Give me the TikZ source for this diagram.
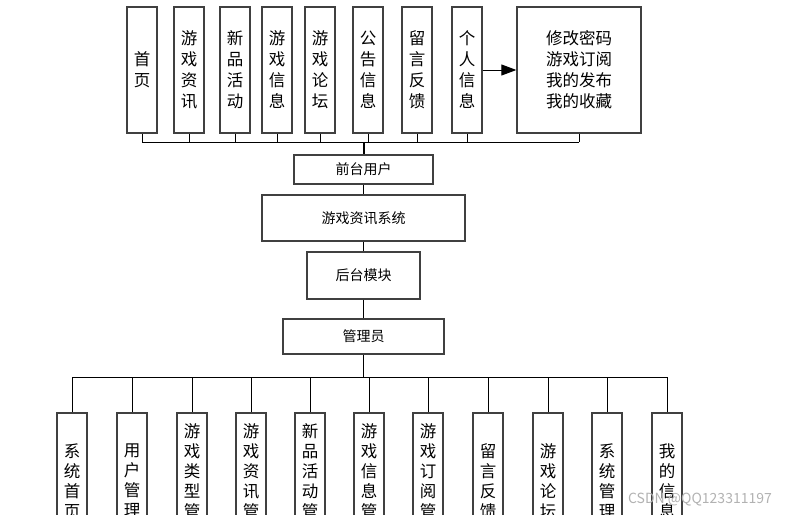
\documentclass[tikz,border=0pt]{standalone}
\usepackage{fontspec}
\setmainfont{Noto Sans CJK SC}
\usetikzlibrary{positioning, arrows.meta}

\begin{document}
\begin{tikzpicture}[
        x=1pt, y=-1pt,
        line width=1pt,
        tallbox/.style={
            draw=black!75,
            line width=1.3pt,
            fill=white,
            inner sep=0pt,
            minimum width=30pt,
            align=center,
            font=\fontsize{16.5}{21}\selectfont
        },
        upbox/.style={tallbox, minimum height=126pt},
        downbox/.style={tallbox, minimum height=136pt, font=\fontsize{16.5}{20}\selectfont},
        midbox/.style={
            draw=black!75,
            line width=1.3pt,
            fill=white,
            inner sep=0pt,
            font=\fontsize{14}{16}\selectfont
        }
    ]
        \useasboundingbox (0,0) rectangle (792,514);
        \clip (0,0) rectangle (792,514);

        % Front-end modules
        \node[upbox] (home) at (142,70) {首\\页};
        \node[upbox] (news) at (189,70) {游\\戏\\资\\讯};
        \node[upbox] (event) at (235,70) {新\\品\\活\\动};
        \node[upbox] (info) at (277,70) {游\\戏\\信\\息};
        \node[upbox] (forum) at (320,70) {游\\戏\\论\\坛};
        \node[upbox] (notice) at (368,70) {公\\告\\信\\息};
        \node[upbox] (msg) at (417,70) {留\\言\\反\\馈};
        \node[upbox] (self) at (467,70) {个\\人\\信\\息};
        \node[upbox, minimum width=124pt, align=left] (selfsub) at (579,70) {修改密码\\游戏订阅\\我的发布\\我的收藏};
        \draw[-{Triangle[length=15pt,width=11pt]}] (self) -- (selfsub);

        % Main chain
        \node[midbox, minimum width=139pt, minimum height=29pt] (front) at (363.5,169.5) {前台用户};
        \node[midbox, minimum width=203pt, minimum height=46pt] (sys) at (363.5,218) {游戏资讯系统};
        \node[midbox, minimum width=113pt, minimum height=47pt] (back) at (363.5,275.5) {后台模块};
        \node[midbox, minimum width=161pt, minimum height=35pt] (admin) at (363.5,336.5) {管理员};
        \draw (front) -- (sys);
        \draw (sys) -- (back);
        \draw (back) -- (admin);

        % Top bus
        \coordinate (topbus) at (363.5,142);
        \draw (home.south |- topbus) -- (selfsub.south |- topbus);
        \draw (home.south) -- (home.south |- topbus);
        \draw (news.south) -- (news.south |- topbus);
        \draw (event.south) -- (event.south |- topbus);
        \draw (info.south) -- (info.south |- topbus);
        \draw (forum.south) -- (forum.south |- topbus);
        \draw (notice.south) -- (notice.south |- topbus);
        \draw (msg.south) -- (msg.south |- topbus);
        \draw (self.south) -- (self.south |- topbus);
        \draw (selfsub.south) -- (selfsub.south |- topbus);
        \draw[line width=2pt] (topbus) -- (front.north);

        % Back-end modules
        \node[downbox] (a1) at (72,481) {系\\统\\首\\页};
        \node[downbox] (a2) at (132,481) {用\\户\\管\\理};
        \node[downbox] (a3) at (192,481) {游\\戏\\类\\型\\管\\理};
        \node[downbox] (a4) at (251,481) {游\\戏\\资\\讯\\管\\理};
        \node[downbox] (a5) at (310,481) {新\\品\\活\\动\\管\\理};
        \node[downbox] (a6) at (369,481) {游\\戏\\信\\息\\管\\理};
        \node[downbox] (a7) at (428,481) {游\\戏\\订\\阅\\管\\理};
        \node[downbox] (a8) at (488,481) {留\\言\\反\\馈};
        \node[downbox] (a9) at (548,481) {游\\戏\\论\\坛};
        \node[downbox] (a10) at (607,481) {系\\统\\管\\理};
        \node[downbox] (a11) at (667,481) {我\\的\\信\\息};

        % Bottom bus
        \coordinate (lowbus) at (363.5,377);
        \draw (admin) -- (lowbus);
        \draw (a1.north |- lowbus) -- (a11.north |- lowbus);
        \draw (a1.north) -- (a1.north |- lowbus);
        \draw (a2.north) -- (a2.north |- lowbus);
        \draw (a3.north) -- (a3.north |- lowbus);
        \draw (a4.north) -- (a4.north |- lowbus);
        \draw (a5.north) -- (a5.north |- lowbus);
        \draw (a6.north) -- (a6.north |- lowbus);
        \draw (a7.north) -- (a7.north |- lowbus);
        \draw (a8.north) -- (a8.north |- lowbus);
        \draw (a9.north) -- (a9.north |- lowbus);
        \draw (a10.north) -- (a10.north |- lowbus);
        \draw (a11.north) -- (a11.north |- lowbus);

        % Watermark
        \node[text=black!30, font=\fontsize{14}{16}\selectfont] (mark) at (700,500) {CSDN @QQ123311197};
    \end{tikzpicture}
\end{document}
